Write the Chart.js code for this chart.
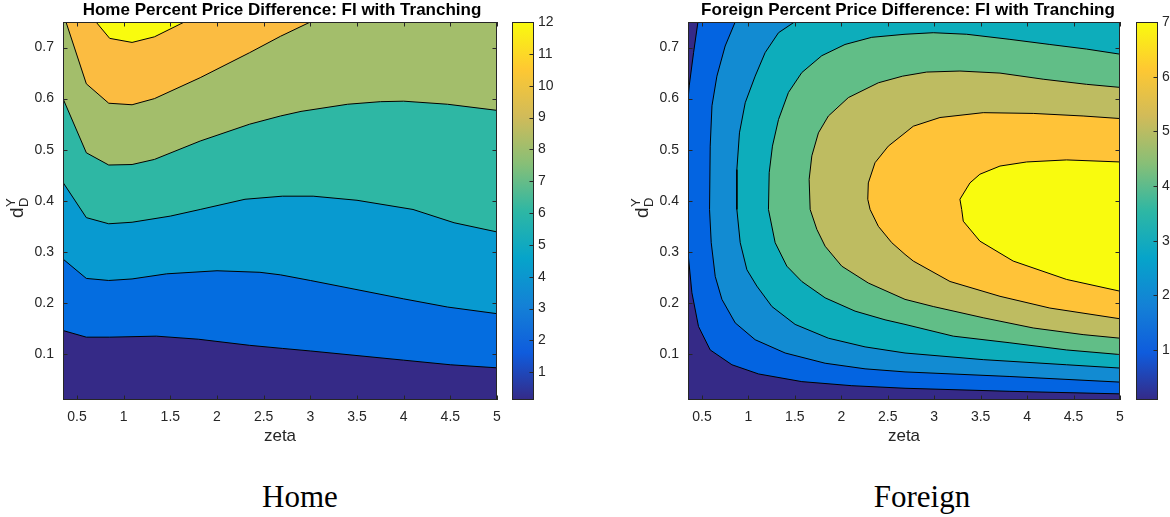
<!DOCTYPE html>
<html>
<head>
<meta charset="utf-8">
<script src="https://cdn.jsdelivr.net/npm/chart.js@4.4.1/dist/chart.umd.min.js"></script>
<style>
  html, body { margin:0; padding:0; background:#fff; overflow:hidden; }
  body { width:1170px; height:517px; position:relative; }
  canvas { position:absolute; top:0; }
  .caption { position:absolute; top:481px; line-height:31px; font-family:"Liberation Serif","Times New Roman",serif; font-size:31px; color:#000; transform:translateX(-50%); white-space:nowrap; }
</style>
</head>
<body>
<canvas id="homeChart" width="564" height="460" style="left:0"></canvas>
<canvas id="homeBar" width="60" height="460" style="left:505px"></canvas>
<canvas id="foreignChart" width="566" height="460" style="left:625px"></canvas>
<canvas id="foreignBar" width="41" height="460" style="left:1129px"></canvas>
<div class="caption" style="left:300px">Home</div>
<div class="caption" style="left:922px">Foreign</div>
<script>
// 坐标轴范围与刻度
const xMin = 0.35, xMax = 5
const yMin = 0.01, yMax = 0.75
const xTicks = [0.5, 1, 1.5, 2, 2.5, 3, 3.5, 4, 4.5, 5]
const yTicks = [0.1, 0.2, 0.3, 0.4, 0.5, 0.6, 0.7]

// Home：等高线 (zeta, d)
const homeLevels = [2, 4, 6, 8, 10, 12]
const homeBarTicks = [1, 2, 3, 4, 5, 6, 7, 8, 9, 10, 11, 12]
const homeRange = [0.13, 12]
const home2 = [[0.35,0.146],[0.6,0.133],[0.85,0.133],[1.35,0.135],[1.8,0.129],[2.35,0.117],[2.7,0.111],[3.0,0.106],[3.5,0.097],[4.0,0.088],[4.5,0.079],[5.0,0.073]]
const home4 = [[0.35,0.286],[0.6,0.248],[0.84,0.244],[1.09,0.247],[1.46,0.257],[2.0,0.263],[2.46,0.26],[2.68,0.255],[3.0,0.244],[3.5,0.226],[4.0,0.208],[4.47,0.192],[5.0,0.179]]
const home6 = [[0.35,0.436],[0.6,0.367],[0.84,0.355],[1.09,0.358],[1.5,0.37],[1.82,0.383],[2.3,0.403],[2.7,0.409],[3.03,0.409],[3.5,0.401],[4.1,0.383],[4.54,0.357],[5.0,0.339]]
const home8 = [[0.35,0.6],[0.6,0.494],[0.84,0.47],[1.09,0.471],[1.33,0.481],[1.82,0.517],[2.35,0.55],[2.68,0.566],[2.9,0.575],[3.4,0.589],[3.75,0.594],[4.0,0.595],[4.47,0.589],[5.0,0.577]]
const home10 = [[0.382,0.75],[0.6,0.629],[0.84,0.591],[1.09,0.588],[1.33,0.6],[1.82,0.641],[2.35,0.69],[2.68,0.722],[3.0,0.75]]
const home12 = [[0.704,0.75],[0.85,0.718],[1.09,0.71],[1.33,0.721],[1.65,0.75]]

// Foreign：等高线 (zeta, d)
const foreignLevels = [1, 2, 3, 4, 5, 6, 7]
const foreignBarTicks = [1, 2, 3, 4, 5, 6, 7]
const foreignRange = [0.085, 7]
const foreign1Top = [[0.457,0.75],[0.41,0.69],[0.363,0.625],[0.35,0.597]]
const foreign1 = [[0.35,0.298],[0.392,0.22],[0.463,0.154],[0.589,0.108],[0.823,0.079],[1.109,0.061],[1.575,0.046],[2.113,0.038],[2.686,0.033],[3.815,0.027],[5.0,0.022]]
const foreign2 = [[0.858,0.75],[0.75,0.703],[0.661,0.644],[0.608,0.586],[0.589,0.507],[0.582,0.383],[0.6,0.318],[0.643,0.252],[0.715,0.207],[0.858,0.161],[1.073,0.128],[1.396,0.102],[1.826,0.082],[2.256,0.071],[2.686,0.065],[3.815,0.056],[5.0,0.045]]
const foreign3 = [[1.496,0.75],[1.324,0.729],[1.18,0.69],[1.073,0.644],[0.966,0.592],[0.904,0.533],[0.876,0.461],[0.876,0.383],[0.912,0.318],[0.984,0.265],[1.091,0.233],[1.253,0.193],[1.503,0.158],[1.861,0.131],[2.256,0.114],[2.686,0.102],[3.528,0.089],[4.425,0.079],[5.0,0.0725]]
const foreign4 = [[5.0,0.687],[4.64,0.697],[4.245,0.706],[3.815,0.716],[3.35,0.726],[2.99,0.729],[2.686,0.726],[2.328,0.72],[2.04,0.706],[1.79,0.684],[1.575,0.651],[1.431,0.612],[1.324,0.559],[1.259,0.507],[1.224,0.455],[1.216,0.383],[1.288,0.318],[1.414,0.272],[1.575,0.242],[1.826,0.21],[2.148,0.184],[2.471,0.167],[2.686,0.158],[3.205,0.135],[3.815,0.122],[4.425,0.108],[5.0,0.099]]
const foreign5 = [[5.0,0.622],[4.64,0.628],[4.173,0.638],[3.708,0.65],[3.277,0.654],[2.919,0.652],[2.66,0.644],[2.399,0.631],[2.076,0.602],[1.861,0.566],[1.754,0.533],[1.683,0.488],[1.654,0.442],[1.665,0.383],[1.737,0.344],[1.826,0.311],[2.005,0.272],[2.291,0.239],[2.686,0.207],[2.99,0.193],[3.528,0.171],[4.066,0.151],[4.603,0.138],[5.0,0.131]]
const foreign6 = [[5.0,0.561],[4.603,0.566],[4.066,0.571],[3.528,0.5725],[3.062,0.563],[2.775,0.546],[2.686,0.533],[2.506,0.507],[2.363,0.4745],[2.291,0.435],[2.285,0.403],[2.31,0.383],[2.399,0.35],[2.543,0.318],[2.686,0.295],[2.775,0.282],[3.17,0.242],[3.708,0.213],[4.245,0.19],[5.0,0.169]]
const foreign7 = [[5.0,0.476],[4.425,0.48],[3.995,0.476],[3.708,0.468],[3.492,0.452],[3.385,0.435],[3.277,0.403],[3.296,0.383],[3.313,0.36],[3.492,0.321],[3.85,0.282],[4.425,0.246],[5.0,0.223]]

// 颜色 (parula)
const homeColors = ['#352a87', '#046de0', '#089ad0', '#2eb7a4', '#a3be6b', '#fbbc41', '#f9fb0e']
const foreignColors = ['#352a87', '#0364e1', '#128bd2', '#0dadbb', '#61be87', '#bebc61', '#ffc338', '#f9fb0e']
const parulaStops = ['#352a87', '#0f5cdd', '#1481d6', '#06a4ca', '#2eb7a4', '#87bf77', '#d1bb59', '#fec832', '#f9fb0e']

const textColor = '#262626'
Chart.defaults.font.family = '"Liberation Sans", Arial, sans-serif'
Chart.defaults.color = textColor

const topRight = [xMax, yMax]
const topLeft = [xMin, yMax]

// 各层区域 (值 >= level)
const homePolys = [
  home2.concat([topRight, topLeft]),
  home4.concat([topRight, topLeft]),
  home6.concat([topRight, topLeft]),
  home8.concat([topRight, topLeft]),
  home10,
  home12
]
const homeLines = [home2, home4, home6, home8, home10, home12]

const foreignPolys = [
  foreign1Top.concat(foreign1, [topRight]),
  foreign2.concat([topRight]),
  foreign3.concat([topRight]),
  foreign4,
  foreign5,
  foreign6,
  foreign7
]
const foreignLines = [foreign1Top, foreign1, foreign2, foreign3, foreign4, foreign5, foreign6, foreign7]

function toPoints(arr){
  return arr.map(p => ({ x:p[0], y:p[1] }))
}

function buildDatasets(polys, lines, colors){
  const sets = []
  polys.forEach((poly, i) => {
    sets.push({
      data: toPoints(poly),
      showLine: true,
      fill: 'shape',
      backgroundColor: colors[i + 1],
      borderColor: 'transparent',
      borderWidth: 0,
      pointRadius: 0,
      order: 100 - i
    })
  })
  lines.forEach(line => {
    sets.push({
      data: toPoints(line),
      showLine: true,
      fill: false,
      borderColor: '#000',
      borderWidth: 1,
      pointRadius: 0,
      order: 0
    })
  })
  return sets
}

// 边框与向内刻度
const framePlugin = {
  id: 'frame',
  beforeDatasetsDraw(chart, args, opts){
    if (!opts.base) return
    const a = chart.chartArea
    chart.ctx.save()
    chart.ctx.fillStyle = opts.base
    chart.ctx.fillRect(a.left, a.top, a.right - a.left, a.bottom - a.top)
    chart.ctx.restore()
  },
  afterDraw(chart, args, opts){
    const { ctx, chartArea: a, scales } = chart
    const len = 4.5
    ctx.save()
    ctx.strokeStyle = textColor
    ctx.lineWidth = 1
    ctx.beginPath()
    if (opts.xTicks) {
      opts.xTicks.forEach(v => {
        const px = Math.round(scales.x.getPixelForValue(v)) + 0.5
        ctx.moveTo(px, a.bottom); ctx.lineTo(px, a.bottom - len)
        ctx.moveTo(px, a.top); ctx.lineTo(px, a.top + len)
      })
    }
    if (opts.yTicks) {
      opts.yTicks.forEach(v => {
        const py = Math.round(scales.y.getPixelForValue(v)) + 0.5
        if (opts.left) { ctx.moveTo(a.left, py); ctx.lineTo(a.left + len, py) }
        ctx.moveTo(a.right, py); ctx.lineTo(a.right - len, py)
      })
    }
    ctx.stroke()
    ctx.strokeRect(a.left + 0.5, a.top + 0.5, a.right - a.left - 1, a.bottom - a.top - 1)
    ctx.restore()
  }
}

// 纵轴标题 d_D^Y
const yLabelPlugin = {
  id: 'ylabel',
  afterDraw(chart, args, opts){
    const { ctx, chartArea: a } = chart
    const big = '19px "Liberation Sans", Arial, sans-serif'
    const small = '13px "Liberation Sans", Arial, sans-serif'
    ctx.save()
    ctx.translate(opts.x, (a.top + a.bottom) / 2 - 3)
    ctx.rotate(-Math.PI / 2)
    ctx.fillStyle = textColor
    ctx.textBaseline = 'alphabetic'
    ctx.font = big
    const wd = ctx.measureText('d').width
    ctx.font = small
    const ws = Math.max(ctx.measureText('Y').width, ctx.measureText('D').width)
    const x0 = -(wd + ws) / 2
    ctx.font = big
    ctx.fillText('d', x0, 0)
    ctx.font = small
    ctx.fillText('Y', x0 + wd + 0.5, -8)
    ctx.fillText('D', x0 + wd + 0.5, 5)
    ctx.restore()
  }
}

function contourChart(id, title, polys, lines, colors, rightGap){
  return new Chart(document.getElementById(id), {
    type: 'scatter',
    data: { datasets: buildDatasets(polys, lines, colors) },
    options: {
      responsive: false,
      animation: false,
      layout: { padding: 0 },
      plugins: {
        legend: { display: false },
        tooltip: { enabled: false },
        title: {
          display: true,
          text: title,
          color: '#000',
          font: { size: 17, weight: 'bold' },
          padding: { top: 0, bottom: 1.6 }
        },
        frame: { base: colors[0], xTicks: xTicks, yTicks: yTicks, left: true },
        ylabel: { x: 23 }
      },
      scales: {
        x: {
          type: 'linear',
          min: xMin,
          max: xMax,
          grid: { display: false, drawTicks: false },
          border: { display: false },
          ticks: { padding: 9, font: { size: 14 }, callback: v => String(v) },
          afterBuildTicks: s => { s.ticks = xTicks.map(v => ({ value: v })) },
          afterFit: s => { s.height = 60 },
          title: { display: true, text: 'zeta', font: { size: 17 }, padding: { top: 0, bottom: 13.3 } }
        },
        y: {
          type: 'linear',
          min: yMin,
          max: yMax,
          grid: { display: false, drawTicks: false },
          border: { display: false },
          ticks: { padding: 9, font: { size: 14 }, callback: v => String(v) },
          afterBuildTicks: s => { s.ticks = yTicks.map(v => ({ value: v })) },
          afterFit: s => { s.width = 63 }
        },
        // 右侧留白，使标题居中
        gap: {
          type: 'linear',
          position: 'right',
          grid: { display: false, drawTicks: false },
          border: { display: false },
          ticks: { display: false },
          afterFit: s => { s.width = rightGap }
        }
      }
    },
    plugins: [framePlugin, yLabelPlugin]
  })
}

function colorBar(id, range, ticks, axisWidth){
  return new Chart(document.getElementById(id), {
    type: 'bar',
    data: {
      labels: [''],
      datasets: [{
        data: [range],
        borderWidth: 0,
        barPercentage: 1,
        categoryPercentage: 1,
        backgroundColor: c => {
          const area = c.chart.chartArea
          if (!area) return parulaStops[0]
          const g = c.chart.ctx.createLinearGradient(0, area.bottom, 0, area.top)
          parulaStops.forEach((col, i) => g.addColorStop(i / (parulaStops.length - 1), col))
          return g
        }
      }]
    },
    options: {
      responsive: false,
      animation: false,
      layout: { padding: { left: 7, right: 0, top: 22, bottom: 60 } },
      plugins: {
        legend: { display: false },
        tooltip: { enabled: false },
        frame: { yTicks: ticks, left: false }
      },
      scales: {
        x: { display: false },
        y: {
          position: 'right',
          min: range[0],
          max: range[1],
          grid: { display: false, drawTicks: false },
          border: { display: false },
          ticks: { padding: 4, font: { size: 14 }, callback: v => String(v) },
          afterBuildTicks: s => { s.ticks = ticks.map(v => ({ value: v })) },
          afterFit: s => { s.width = axisWidth }
        }
      }
    },
    plugins: [framePlugin]
  })
}

contourChart('homeChart', 'Home Percent Price Difference: FI with Tranching', homePolys, homeLines, homeColors, 67)
colorBar('homeBar', homeRange, homeBarTicks, 31)
contourChart('foreignChart', 'Foreign Percent Price Difference: FI with Tranching', foreignPolys, foreignLines, foreignColors, 71)
colorBar('foreignBar', foreignRange, foreignBarTicks, 12)
</script>
</body>
</html>
